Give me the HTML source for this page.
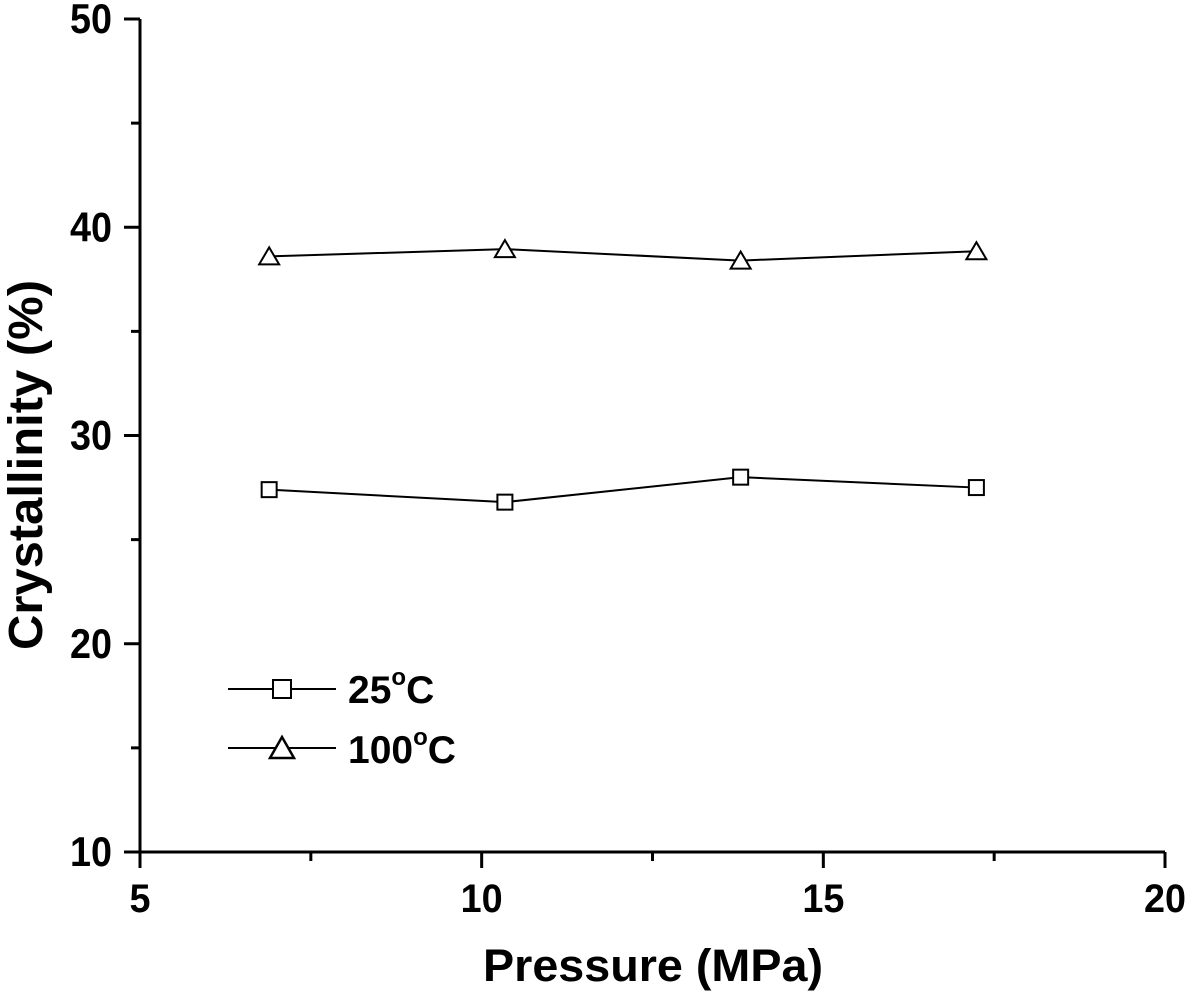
<!DOCTYPE html>
<html><head><meta charset="utf-8"><style>
html,body{margin:0;padding:0;background:#fff;}
svg{display:block;font-family:"Liberation Sans",Arial,sans-serif;font-weight:bold;}
</style></head><body>
<svg id="chart" width="1186" height="1000" viewBox="0 0 1186 1000" xmlns="http://www.w3.org/2000/svg">
<g id="axes"></g>
<g id="series"></g>
<g id="legend">
  <line x1="228" y1="689" x2="336" y2="689" stroke="#000" stroke-width="2"/>
  <rect x="273" y="680" width="18" height="18" fill="#fff" stroke="#000" stroke-width="2"/>
  <text x="348" y="703" font-size="39">25<tspan dy="-18" font-size="24">o</tspan><tspan dy="18">C</tspan></text>
  <line x1="228" y1="748" x2="336" y2="748" stroke="#000" stroke-width="2"/>
  <polygon points="270,758 282,737 294,758" fill="#fff" stroke="#000" stroke-width="2.5"/>
  <text x="348" y="763" font-size="39">100<tspan dy="-18" font-size="24">o</tspan><tspan dy="18">C</tspan></text>
</g>
<text x="483" y="981" font-size="45" textLength="340" lengthAdjust="spacingAndGlyphs">Pressure (MPa)</text>
<text transform="translate(42,650) rotate(-90)" font-size="48" textLength="370" lengthAdjust="spacingAndGlyphs">Crystallinity (%)</text>
</svg>
<script>
const pressures = [6.89, 10.34, 13.79, 17.24];
const cryst25 = [27.4, 26.8, 28.0, 27.5];
const cryst100 = [38.6, 38.95, 38.4, 38.85];
const xTicks = [5, 10, 15, 20];
const yTicks = [10, 20, 30, 40, 50];
const xMinorTicks = [7.5, 12.5, 17.5];
const yMinorTicks = [15, 25, 35, 45];

const NS = 'http://www.w3.org/2000/svg';
const X0 = 140, X1 = 1165, Y0 = 852, Y1 = 19;
function xs(v){ return X0 + (v - 5) / 15 * (X1 - X0); }
function ys(v){ return Y0 - (v - 10) / 40 * (Y0 - Y1); }
function mk(tag, attrs, parent){
  const e = document.createElementNS(NS, tag);
  for (const k in attrs) e.setAttribute(k, attrs[k]);
  parent.appendChild(e); return e;
}
const axes = document.getElementById('axes');
let el = mk('line', {x1:X0, y1:Y0, x2:X1, y2:Y0, stroke:'#000', 'stroke-width':3}, axes);


el = mk('line', {x1:X0, y1:Y0+1.5, x2:X0, y2:Y1, stroke:'#000', 'stroke-width':3}, axes);


xTicks.forEach(v => {
  let t = mk('line', {x1:xs(v), y1:Y0, x2:xs(v), y2:Y0+16, stroke:'#000', 'stroke-width':3}, axes);
  
  
  const s = String(v);
  let l = mk('text', {x:xs(v), y:912, 'font-size':40, 'text-anchor':'middle', textLength:21*s.length, lengthAdjust:'spacingAndGlyphs'}, axes);
  l.textContent = s;
  
  
});
xMinorTicks.forEach(v => {
  let t = mk('line', {x1:xs(v), y1:Y0, x2:xs(v), y2:Y0+9, stroke:'#000', 'stroke-width':3}, axes);
  
  
});
yTicks.forEach(v => {
  let t = mk('line', {x1:X0, y1:ys(v), x2:X0-16, y2:ys(v), stroke:'#000', 'stroke-width':3}, axes);
  
  
  const s = String(v);
  let l = mk('text', {x:112 - 21*s.length, y:ys(v)+14, 'font-size':42, textLength:21*s.length, lengthAdjust:'spacingAndGlyphs'}, axes);
  l.textContent = s;
  
  
});
yMinorTicks.forEach(v => {
  let t = mk('line', {x1:X0, y1:ys(v), x2:X0-9, y2:ys(v), stroke:'#000', 'stroke-width':3}, axes);
  
  
});
const series = document.getElementById('series');
function drawSeries(vals, kind){
  const pts = pressures.map((p,i)=>xs(p)+','+ys(vals[i])).join(' ');
  let pl = mk('polyline', {points:pts, fill:'none', stroke:'#000', 'stroke-width':2}, series);
  
  
  pressures.forEach((p,i)=>{
    const cx = xs(p), cy = ys(vals[i]);
    let m;
    if (kind === '25c') {
      m = mk('rect', {x:cx-7.5, y:cy-7.5, width:15, height:15, fill:'#fff', stroke:'#000', 'stroke-width':2}, series);
    } else {
      m = mk('polygon', {points:(cx-10)+','+(cy+8)+' '+cx+','+(cy-9)+' '+(cx+10)+','+(cy+8), fill:'#fff', stroke:'#000', 'stroke-width':2}, series);
    }
    
    
  });
}
drawSeries(cryst25, '25c');
drawSeries(cryst100, '100c');
</script>
</body></html>
